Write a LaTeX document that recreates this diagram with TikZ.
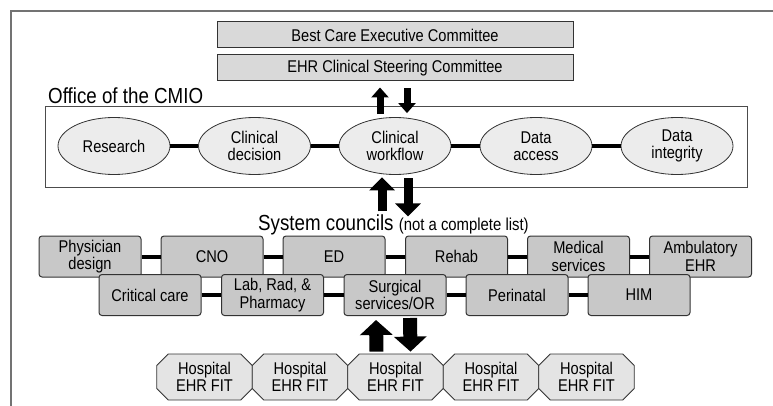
\documentclass[tikz,border=0pt]{standalone}
\usepackage{fontspec}
\setmainfont{Liberation Sans}[FakeStretch=0.86]
\usetikzlibrary{shapes.geometric,shapes.misc,arrows.meta}
\definecolor{cmtegray}{HTML}{D9D9D9}
\definecolor{areagray}{HTML}{ECECEC}
\definecolor{councilgray}{HTML}{C8C8C8}
\definecolor{hospgray}{HTML}{E4E4E4}

\begin{document}
\begin{tikzpicture}[x=1pt,y=-1pt,
    txt/.style={font=\fontsize{17}{17.5}\selectfont,align=center,inner sep=0pt},
    head/.style={font=\fontsize{21.8}{23}\selectfont,anchor=base west,inner sep=0pt},
    cmte/.style={txt,draw=black!80,fill=cmtegray,line width=1pt,minimum width=356pt,minimum height=26pt},
    area/.style={txt,ellipse,draw=black!80,fill=areagray,line width=.8pt,minimum width=112pt,minimum height=57pt},
    council/.style={txt,draw=black!80,fill=councilgray,line width=1pt,rounded corners=3pt,minimum width=102pt,minimum height=41pt},
    hosp/.style={txt,chamfered rectangle,chamfered rectangle xsep=8pt,draw=black!80,fill=hospgray,line width=.8pt,minimum width=95.5pt,minimum height=46pt},
    link/.style={line width=4pt},
    sarr/.style={line width=7pt,-{Triangle[length=10pt,width=17pt]}},
    marr/.style={line width=9pt,-{Triangle[length=13pt,width=25pt]}},
    larr/.style={line width=14pt,-{Triangle[length=15pt,width=32pt]}}]
  \useasboundingbox (0,0) rectangle (773,406);
  \draw[black!55,line width=1.5pt] (773,11) -- (11,11) -- (11,406);

  \node[cmte] (best) at (395,35) {Best Care Executive Committee};
  \node[cmte] (ehr) at (395,68) {EHR Clinical Steering Committee};

  \node[head] (office) at (48,104) {Office of the CMIO};
  \node[draw=black!70,line width=1pt,minimum width=702pt,minimum height=81pt,inner sep=0pt] (cmio) at (396,147.5) {};
  \node[area] (res) at (114,146) {Research};
  \node[area] (dec) at (254.5,146) {Clinical\\decision};
  \node[area] (wf) at (395,146) {Clinical\\workflow};
  \node[area] (acc) at (536,146) {Data\\access};
  \node[area] (integ) at (677,146) {Data\\integrity};
  \draw[link] (res) -- (dec) (dec) -- (wf) (wf) -- (acc) (acc) -- (integ);

  \draw[sarr] ([xshift=-15pt,yshift=3pt]wf.north) -- ([xshift=-15pt,yshift=-6pt]ehr.south);
  \draw[sarr] ([xshift=12pt,yshift=-7pt]ehr.south) -- ([xshift=12pt,yshift=4pt]wf.north);

  \node[head] (sys) at (258,230) {System councils {\fontsize{17.3}{18}\selectfont(not a complete list)}};
  \draw[marr] ([xshift=-13pt,yshift=-36.5pt]wf.south) -- ([xshift=-13pt,yshift=-2.5pt]wf.south);
  \draw[marr] ([xshift=13pt,yshift=-3.5pt]wf.south) -- ([xshift=13pt,yshift=-41.5pt]wf.south);

  \node[council] (phys) at (90,256.5) {Physician\\design};
  \node[council] (cno) at (212,256.5) {CNO};
  \node[council] (ed) at (334,256.5) {ED};
  \node[council] (rehab) at (456.5,256.5) {Rehab};
  \node[council] (med) at (578.5,256.5) {Medical\\services};
  \node[council] (amb) at (700.5,256.5) {Ambulatory\\EHR};
  \draw[link] (phys) -- (cno) (cno) -- (ed) (ed) -- (rehab) (rehab) -- (med) (med) -- (amb);

  \node[council] (crit) at (150,295) {Critical care};
  \node[council] (lab) at (272.5,295) {Lab, Rad, \&\\Pharmacy};
  \node[council] (surg) at (395,295) {Surgical\\services/OR};
  \node[council] (peri) at (517,295) {Perinatal};
  \node[council] (him) at (639,295) {HIM};
  \draw[link] (crit) -- (lab) (lab) -- (surg) (surg) -- (peri) (peri) -- (him);

  \node[hosp] (h1) at (204.5,377) {Hospital\\EHR FIT};
  \node[hosp] (h2) at (300,377) {Hospital\\EHR FIT};
  \node[hosp] (h3) at (395.5,377) {Hospital\\EHR FIT};
  \node[hosp] (h4) at (491,377) {Hospital\\EHR FIT};
  \node[hosp] (h5) at (586.5,377) {Hospital\\EHR FIT};

  \draw[larr] ([xshift=-19pt,yshift=2pt]h3.north) -- ([xshift=-19pt,yshift=-4pt]surg.south);
  \draw[larr] ([xshift=15pt,yshift=-2pt]surg.south) -- ([xshift=15pt,yshift=2pt]h3.north);
\end{tikzpicture}
\end{document}
